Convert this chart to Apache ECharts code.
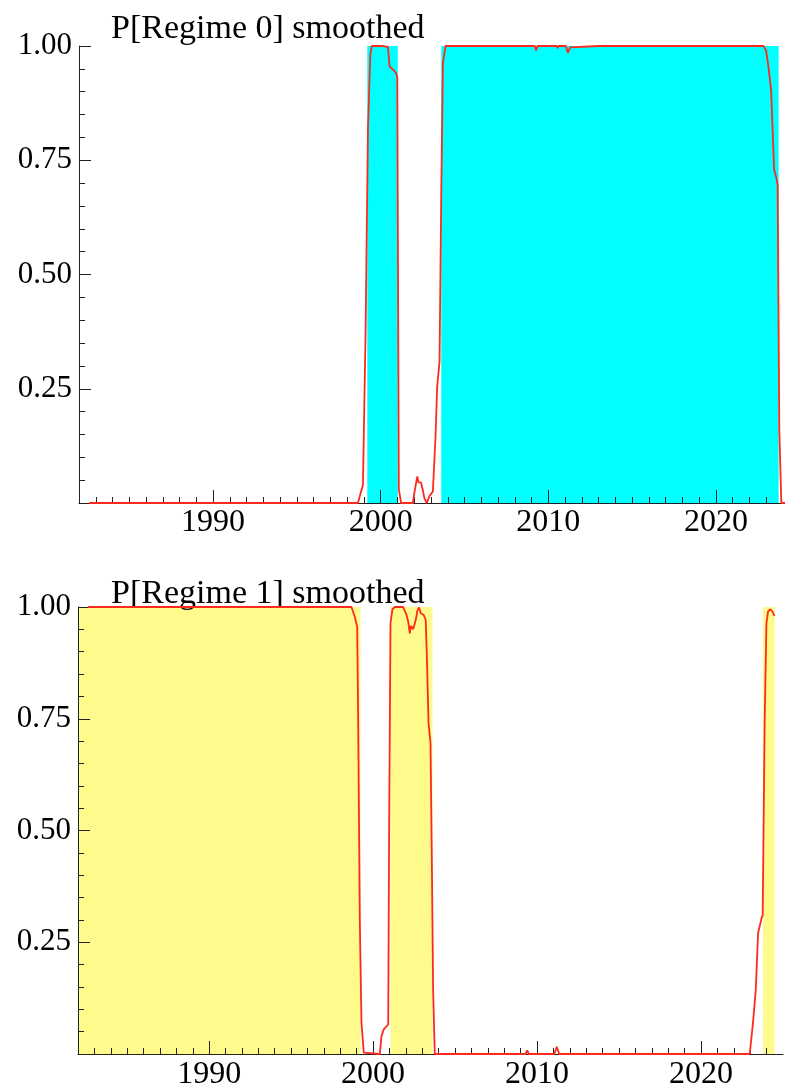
<!DOCTYPE html>
<html>
<head>
<meta charset="utf-8">
<script src="https://cdn.jsdelivr.net/npm/echarts@6/dist/echarts.min.js"></script>
<style>
html,body{margin:0;padding:0;background:#fff;}
#chart{width:787px;height:1091px;}
</style>
</head>
<body>
<div id="chart"></div>
<script>
// ---- data ----
const titles = ['P[Regime 0] smoothed', 'P[Regime 1] smoothed'];
const decadeLabels = [1990, 2000, 2010, 2020];

const years0 = [1982.6,1998.64,1998.94,1999.10,1999.24,1999.38,1999.47,2000.10,2000.43,2000.53,2000.78,2000.93,2000.99,2001.08,2001.22,2001.92,2002.02,2002.18,2002.25,2002.40,2002.50,2002.61,2002.75,2002.91,2003.11,2003.27,2003.37,2003.51,2003.61,2003.71,2003.87,2009.20,2009.27,2009.35,2010.50,2010.55,2010.60,2011.05,2011.16,2011.30,2011.40,2013.00,2013.05,2013.10,2022.83,2022.99,2023.13,2023.29,2023.38,2023.47,2023.59,2023.68,2023.78,2023.90,2024.45];
const probs0 = [0,0,0.04,0.38,0.82,0.98,1.0,1.0,0.998,0.955,0.947,0.94,0.93,0.03,0,0,0.025,0.058,0.045,0.045,0.03,0.01,0,0.015,0.025,0.145,0.255,0.31,0.67,0.963,1.0,1.0,0.99,1.0,1.0,0.995,1.0,1.0,0.985,0.997,1.0,1.0,0.996,1.0,1.0,0.99,0.955,0.904,0.816,0.729,0.714,0.696,0.16,0,0];

const years1 = [1982.6,1998.68,1998.88,1999.03,1999.09,1999.19,1999.29,1999.43,2000.41,2000.51,2000.65,2000.92,2000.98,2001.06,2001.18,2001.32,2001.83,2002.04,2002.14,2002.24,2002.30,2002.44,2002.60,2002.71,2002.80,2002.91,2003.09,2003.21,2003.29,2003.38,2003.50,2003.58,2003.66,2003.76,2005.60,2005.70,2005.80,2009.30,2009.40,2009.50,2011.05,2011.20,2011.35,2013.10,2013.20,2013.30,2022.97,2023.17,2023.34,2023.48,2023.58,2023.70,2023.76,2023.88,2023.99,2024.09,2024.23,2024.35,2024.48];
const probs1 = [1,1,0.978,0.956,0.74,0.294,0.07,0.003,0,0.04,0.055,0.066,0.517,0.964,0.995,1,1,0.982,0.967,0.941,0.958,0.95,0.971,0.993,0.999,0.986,0.982,0.971,0.874,0.74,0.696,0.44,0.144,0,0,0.004,0,0,0.008,0,0,0.016,0,0,0.004,0,0,0.07,0.144,0.27,0.286,0.305,0.31,0.74,0.964,0.99,0.995,0.99,0.98];

const bandStarts0 = [1999.20, 2003.61];
const bandEnds0   = [2001.02, 2023.74];
const bandStarts1 = [1982.0, 2001.06, 2023.78];
const bandEnds1   = [1999.23, 2003.62, 2024.49];

const xMin = [1982, 1982];
const xMax = [2024, 2025];

// ---- build ----
const FONT = 'Liberation Serif';
const pairs = (xs, ys) => xs.map((x, i) => [x, ys[i]]);
const bands = (s, e) => s.map((a, i) => [{xAxis: a}, {xAxis: e[i]}]);
function yearTicks(a, b) { const t = []; for (let y = a + 1; y < b; y++) t.push(y); return t; }

const grids = [
  {left: 79, top: 46, width: 704, height: 457},
  {left: 78, top: 607, width: 705, height: 448}
];

const xAxes = [], yAxes = [], series = [], titleOpts = [];
[0, 1].forEach(g => {
  xAxes.push({
    type: 'value', gridIndex: g, position: 'bottom', min: xMin[g], max: xMax[g], z: 10,
    axisLine: {show: true, lineStyle: {color: '#222', width: 1}},
    axisTick: {show: true, inside: true, length: 13, customValues: decadeLabels, lineStyle: {color: '#222', width: 1}},
    axisLabel: {show: true, customValues: decadeLabels, formatter: v => String(v), fontFamily: FONT, fontSize: 32, color: '#000', margin: g === 0 ? 4 : 5},
    splitLine: {show: false}
  });
  xAxes.push({
    type: 'value', gridIndex: g, position: 'bottom', min: xMin[g], max: xMax[g], z: 10,
    axisLine: {show: false},
    axisTick: {show: true, inside: true, length: 6, customValues: yearTicks(xMin[g], xMax[g]), lineStyle: {color: '#222', width: 1}},
    axisLabel: {show: false},
    splitLine: {show: false}
  });
  yAxes.push({
    type: 'value', gridIndex: g, min: 0, max: 1, interval: 0.25, z: 10,
    axisLine: {show: true, lineStyle: {color: '#222', width: 1}},
    axisTick: {show: true, inside: true, length: 12, lineStyle: {color: '#222', width: 1}},
    minorTick: {show: true, splitNumber: 5, length: 6, lineStyle: {color: '#222', width: 1}},
    axisLabel: {show: true, showMinLabel: false, formatter: v => v.toFixed(2), fontFamily: FONT, fontSize: 31, color: '#000', margin: 7},
    splitLine: {show: false}
  });
  const data = g === 0 ? pairs(years0, probs0) : pairs(years1, probs1);
  const bandData = g === 0 ? bands(bandStarts0, bandEnds0) : bands(bandStarts1, bandEnds1);
  const bandColor = g === 0 ? '#00ffff' : '#fffa8c';
  series.push({
    type: 'line', xAxisIndex: g * 2, yAxisIndex: g, data: data, z: 1,
    showSymbol: false, silent: true, lineStyle: {opacity: 0, width: 0},
    markArea: {silent: true, itemStyle: {color: bandColor, opacity: 1}, data: bandData}
  });
  series.push({
    type: 'line', xAxisIndex: g * 2, yAxisIndex: g, data: data, z: 20,
    showSymbol: false, clip: false, silent: true,
    lineStyle: {color: '#ff2a1e', width: 1.8}
  });
  titleOpts.push({
    text: titles[g], left: 111, top: g === 0 ? 12 : 577, padding: 0,
    textStyle: {fontFamily: FONT, fontSize: 34, fontWeight: 'normal', color: '#000'}
  });
});

const chart = echarts.init(document.getElementById('chart'), null, {renderer: 'canvas'});
chart.setOption({
  animation: false,
  backgroundColor: '#fff',
  title: titleOpts,
  grid: grids,
  xAxis: xAxes,
  yAxis: yAxes,
  series: series
});
</script>
</body>
</html>
